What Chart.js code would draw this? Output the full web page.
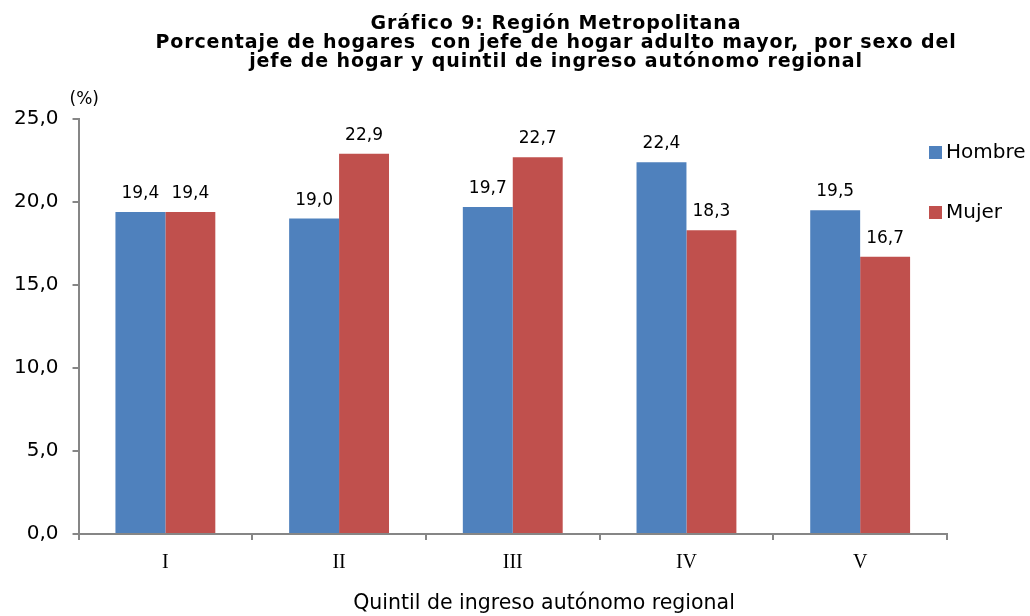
<!DOCTYPE html>
<html>
<head>
<meta charset="utf-8">
<script src="https://cdn.jsdelivr.net/npm/chart.js@4"></script>
<style>
  html, body { margin: 0; padding: 0; background: #fff; }
  #wrap { width: 1030px; height: 616px; }
</style>
</head>
<body>
<div id="wrap"><canvas id="graph" width="1030" height="616"></canvas></div>
<script>
const ctx = document.getElementById('graph').getContext('2d')

const quintiles = ['I', 'II', 'III', 'IV', 'V']
const hombre = [19.4, 19.0, 19.7, 22.4, 19.5]
const mujer = [19.4, 22.9, 22.7, 18.3, 16.7]
const titleLines = [
  'Gráfico 9: Región Metropolitana',
  'Porcentaje de hogares  con jefe de hogar adulto mayor,  por sexo del',
  'jefe de hogar y quintil de ingreso autónomo regional',
]
const xTitle = 'Quintil de ingreso autónomo regional'

const BLUE = '#4F81BD'
const RED = '#C0504D'
const AXIS = '#868686'
const SANS = '"DejaVu Sans", Verdana, sans-serif'

const fmt = v => v.toFixed(1).replace('.', ',')

// title, (%) label, x title, value labels and legend
const extras = {
  id: 'extras',
  afterDatasetsDraw(chart) {
    const c = chart.ctx
    const area = chart.chartArea
    c.save()
    c.fillStyle = '#000'

    c.font = 'bold 19px ' + SANS
    c.letterSpacing = '0.9px'
    c.textAlign = 'center'
    c.textBaseline = 'alphabetic'
    titleLines.forEach((line, i) => c.fillText(line, 556, 29 + i * 19))
    c.letterSpacing = '0px'

    c.font = '17px ' + SANS
    c.textAlign = 'left'
    c.fillText('(%)', area.left - 9, area.top - 15)

    c.font = '20.5px ' + SANS
    c.textAlign = 'center'
    c.fillText(xTitle, 544, 609)

    c.font = '17px ' + SANS
    chart.data.datasets.forEach((ds, i) => {
      chart.getDatasetMeta(i).data.forEach((bar, j) => {
        c.fillText(fmt(ds.data[j]), bar.x, bar.y - 14)
      })
    })

    c.font = '20px ' + SANS
    c.textBaseline = 'middle'
    chart.data.datasets.forEach((ds, i) => {
      const y = area.top + 33 + i * 60
      c.fillStyle = ds.backgroundColor
      c.fillRect(area.right - 18, y - 6, 13, 13)
      c.fillStyle = '#000'
      c.textAlign = 'left'
      c.fillText(ds.label, area.right - 1, y + 1)
    })
    c.restore()
  },
}

let graph = new Chart(ctx, {
  type: 'bar',
  data: {
    labels: quintiles,
    datasets: [
      { label: 'Hombre', backgroundColor: BLUE, data: hombre },
      { label: 'Mujer', backgroundColor: RED, data: mujer },
    ],
  },
  options: {
    responsive: false,
    animation: false,
    layout: { padding: { top: 119, left: 0, right: 83, bottom: 30 } },
    datasets: {
      bar: { categoryPercentage: 0.575, barPercentage: 1.0 },
    },
    plugins: {
      legend: { display: false },
      title: { display: false },
      tooltip: { enabled: false },
    },
    scales: {
      x: {
        grid: {
          display: true,
          offset: true,
          drawOnChartArea: false,
          drawTicks: true,
          tickLength: 6,
          color: AXIS,
          lineWidth: 2,
        },
        border: { display: true, color: AXIS, width: 2 },
        ticks: {
          color: '#000',
          padding: 11,
          font: { family: '"Liberation Serif", "Times New Roman", serif', size: 20 },
        },
      },
      y: {
        min: 0,
        max: 25,
        grid: {
          display: true,
          drawOnChartArea: false,
          drawTicks: true,
          tickLength: 6,
          color: AXIS,
          lineWidth: 2,
        },
        border: { display: true, color: AXIS, width: 2 },
        ticks: {
          stepSize: 5,
          color: '#000',
          padding: 14,
          font: { family: SANS, size: 20 },
          callback: v => fmt(v),
        },
      },
    },
  },
  plugins: [extras],
})
</script>
</body>
</html>
